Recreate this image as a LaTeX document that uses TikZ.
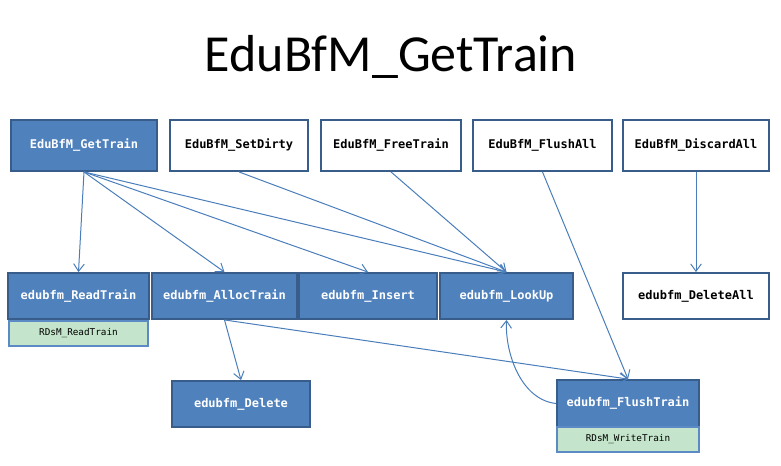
\documentclass[tikz,border=0pt]{standalone}
\usepackage{fontspec}
\setmainfont{Carlito}
\newfontfamily\boxfont{DejaVu Sans Mono}
\usetikzlibrary{arrows.meta}
\definecolor{bfill}{HTML}{4F81BD}
\definecolor{bdraw}{HTML}{385D8A}
\definecolor{gfill}{HTML}{C4E5CB}
\definecolor{gdraw}{HTML}{5B8AC4}
\definecolor{lcol}{HTML}{4A7EBB}
\tikzset{
  box/.style={draw=bdraw, line width=1.4pt, inner sep=0pt, font=\boxfont\bfseries\fontsize{9}{10}\selectfont},
  bluebox/.style={box, fill=bfill, text=white},
  whitebox/.style={box, fill=white, text=black},
  subbox/.style={draw=gdraw, line width=1pt, fill=gfill, inner sep=0pt, font=\boxfont\fontsize{7}{8}\selectfont},
  conn/.style={draw=lcol, line width=0.75pt, -{Straight Barb[length=5.5pt,width=8pt,line width=0.75pt]}},
}
\begin{document}
\begin{tikzpicture}[x=0.75pt,y=-0.75pt]
\useasboundingbox (0,0) rectangle (781,466);
\node (title) at (391,57) {\fontsize{39}{45}\selectfont EduBfM\_GetTrain};

\node[bluebox, minimum width=146*0.75pt, minimum height=51*0.75pt] (GT) at (84,145.5) {EduBfM\_GetTrain};
\node[whitebox, minimum width=138*0.75pt, minimum height=51*0.75pt] (SD) at (239,145.5) {EduBfM\_SetDirty};
\node[whitebox, minimum width=140*0.75pt, minimum height=51*0.75pt] (FT) at (391,145.5) {EduBfM\_FreeTrain};
\node[whitebox, minimum width=139*0.75pt, minimum height=51*0.75pt] (FA) at (542.5,145.5) {EduBfM\_FlushAll};
\node[whitebox, minimum width=146*0.75pt, minimum height=51*0.75pt] (DA) at (696,145.5) {EduBfM\_DiscardAll};

\node[bluebox, minimum width=141*0.75pt, minimum height=46*0.75pt] (RT) at (78.5,296) {edubfm\_ReadTrain};
\node[bluebox, minimum width=145*0.75pt, minimum height=46*0.75pt] (AT) at (224.5,296) {edubfm\_AllocTrain};
\node[bluebox, minimum width=138*0.75pt, minimum height=46*0.75pt] (IN) at (368,296) {edubfm\_Insert};
\node[bluebox, minimum width=133*0.75pt, minimum height=46*0.75pt] (LU) at (506.5,296) {edubfm\_LookUp};
\node[whitebox, minimum width=146*0.75pt, minimum height=46*0.75pt] (DL) at (696,296) {edubfm\_DeleteAll};

\node[subbox, minimum width=139*0.75pt, minimum height=25*0.75pt] (RDR) at (78.5,333.5) {RDsM\_ReadTrain};

\node[bluebox, minimum width=138*0.75pt, minimum height=46*0.75pt] (DE) at (241,404) {edubfm\_Delete};
\node[bluebox, minimum width=142*0.75pt, minimum height=47*0.75pt] (FL) at (628,403.5) {edubfm\_FlushTrain};
\node[subbox, minimum width=142*0.75pt, minimum height=25*0.75pt] (RDW) at (628,439.5) {RDsM\_WriteTrain};

\draw[conn] (GT.south) -- (RT.north);
\draw[conn] (GT.south) -- (AT.north);
\draw[conn] (GT.south) -- (IN.north);
\draw[conn] (GT.south) -- (LU.north);
\draw[conn] (SD.south) -- (LU.north);
\draw[conn] (FT.south) -- (LU.north);
\draw[conn] (FA.south) -- (FL.north);
\draw[conn] (DA.south) -- (DL.north);
\draw[conn] (AT.south) -- (DE.north);
\draw[conn] (AT.south) -- (FL.north);
\draw[conn] (FL.west) .. controls (522,400) and (505,355) .. (LU.south);
\end{tikzpicture}
\end{document}
